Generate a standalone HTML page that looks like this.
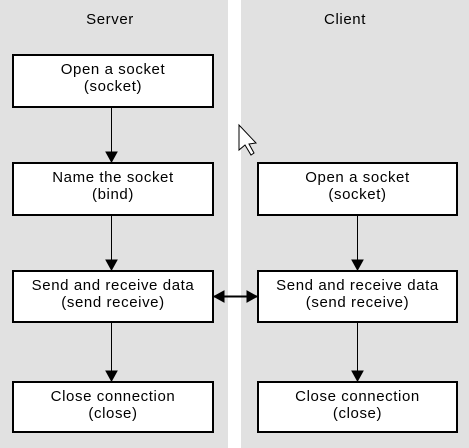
<!DOCTYPE html>
<html><head><style>
body{margin:0;width:469px;height:448px;background:#fff;position:relative;overflow:hidden;font-family:"Liberation Sans",sans-serif;font-size:15px;letter-spacing:0.6px;color:#000}
.p{position:absolute;top:0;height:448px;background:#e1e1e1}
.b{position:absolute;box-sizing:border-box;border:2px solid #000;background:#fff;text-align:center;line-height:17px;padding-top:5px;white-space:nowrap}
.t{position:absolute;top:11px;width:120px;text-align:center;font-size:15px}
</style></head><body>
<div class="p" style="left:0;width:228px"></div>
<div class="p" style="left:241px;width:228px"></div>
<div class="t" style="left:50px">Server</div>
<div class="t" style="left:285px">Client</div>
<div class="b" style="left:12px;top:54px;width:202px;height:54px">Open a socket<br>(socket)</div>
<div class="b" style="left:12px;top:162px;width:202px;height:54px">Name the socket<br>(bind)</div>
<div class="b" style="left:12px;top:270px;width:202px;height:53px">Send and receive data<br>(send receive)</div>
<div class="b" style="left:12px;top:381px;width:202px;height:52px">Close connection<br>(close)</div>
<div class="b" style="left:257px;top:162px;width:201px;height:54px">Open a socket<br>(socket)</div>
<div class="b" style="left:257px;top:270px;width:201px;height:53px">Send and receive data<br>(send receive)</div>
<div class="b" style="left:257px;top:381px;width:201px;height:52px">Close connection<br>(close)</div>
<svg width="469" height="448" style="position:absolute;left:0;top:0">
<g stroke="#000" stroke-width="1" fill="#000">
<line x1="111.5" y1="108" x2="111.5" y2="155"/><polygon points="106,152 117,152 111.5,162"/>
<line x1="111.5" y1="216" x2="111.5" y2="263"/><polygon points="106,260 117,260 111.5,270"/>
<line x1="111.5" y1="323" x2="111.5" y2="374"/><polygon points="106,371 117,371 111.5,381"/>
<line x1="357.5" y1="216" x2="357.5" y2="263"/><polygon points="352,260 363,260 357.5,270"/>
<line x1="357.5" y1="323" x2="357.5" y2="374"/><polygon points="352,371 363,371 357.5,381"/>
<line x1="214" y1="296.5" x2="257" y2="296.5" stroke-width="2"/>
<polygon points="214,296.5 224,291 224,302"/><polygon points="257,296.5 247,291 247,302"/>
<polygon points="239,125 239,150 245,145 251,155 254,153 249,144 256,143" fill="#fff" stroke="#000"/>
</g></svg>
</body></html>
